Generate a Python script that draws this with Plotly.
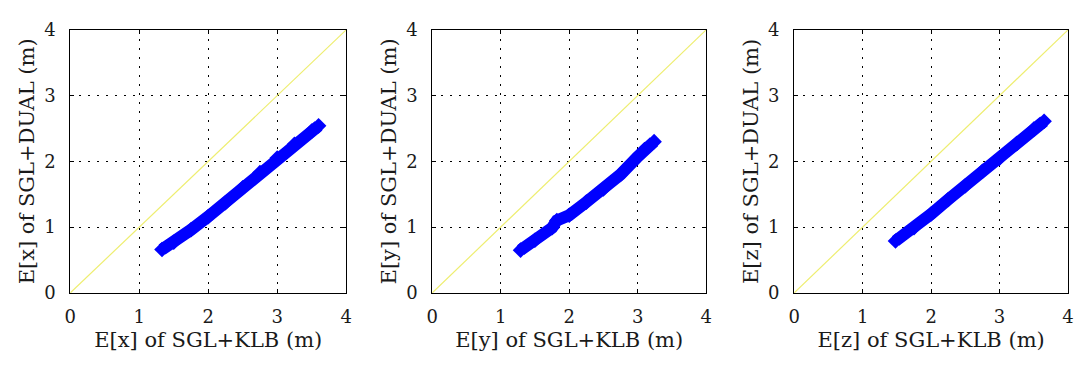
import plotly.graph_objects as go

# Estimated error: SGL+KLB (x axis) versus SGL+DUAL (y axis), one panel per coordinate
klb_x = [1.33, 1.50, 1.75, 2.00, 2.25, 2.50, 2.75, 3.00, 3.25, 3.50, 3.60]
dual_x = [0.66, 0.77, 0.96, 1.16, 1.37, 1.60, 1.83, 2.05, 2.26, 2.46, 2.54]

klb_y = [1.29, 1.50, 1.75, 1.82, 2.00, 2.25, 2.50, 2.75, 3.00, 3.10, 3.24]
dual_y = [0.65, 0.80, 0.99, 1.10, 1.18, 1.38, 1.58, 1.80, 2.07, 2.18, 2.30]

klb_z = [1.48, 1.75, 2.00, 2.25, 2.50, 2.75, 3.00, 3.25, 3.50, 3.65]
dual_z = [0.79, 0.99, 1.20, 1.42, 1.63, 1.85, 2.05, 2.27, 2.49, 2.61]

diag = [0, 4]
ticks = [0, 1, 2, 3, 4]
coords = ["x", "y", "z"]

W, H = 1080, 367
# plot-area boxes in pixels: (left, right)
boxes = [(65, 344), (431, 708), (797, 1074)]
top_px, bottom_px = 20, 299

FONT = "DejaVu Serif"
BLUE = "#0000ff"
YELLOW = "#eeee70"
TXT = "#1a1a1a"

fig = go.Figure()
series = [(klb_x, dual_x), (klb_y, dual_y), (klb_z, dual_z)]

for i, ((xs, ys), c) in enumerate(zip(series, coords)):
    ax = "" if i == 0 else str(i + 1)
    fig.add_trace(go.Scatter(
        x=diag, y=diag, mode="lines",
        line=dict(color=YELLOW, width=1.2),
        xaxis="x" + ax, yaxis="y" + ax, showlegend=False, hoverinfo="skip"))
    fig.add_trace(go.Scatter(
        x=xs, y=ys, mode="lines+markers",
        line=dict(color=BLUE, width=12),
        marker=dict(color=BLUE, size=12, symbol="diamond"),
        xaxis="x" + ax, yaxis="y" + ax, showlegend=False))

    l, r = boxes[i]
    common = dict(
        range=[0, 4], tickvals=ticks, ticktext=[str(t) for t in ticks],
        showline=True, linecolor="black", linewidth=1, mirror="ticks",
        ticks="inside", ticklen=4, tickcolor="black",
        showgrid=True, gridcolor="black", gridwidth=1, griddash="2px,7px",
        zeroline=False, tickfont=dict(family=FONT, size=18, color=TXT),
        fixedrange=True,
    )
    fig.layout["xaxis" + ax] = dict(
        common, domain=[l / W, r / W], anchor="y" + ax,
        title=dict(text=f"E[{c}] of SGL+KLB (m)",
                   font=dict(family=FONT, size=21, color=TXT), standoff=5),
        ticklabelstandoff=8,
    )
    fig.layout["yaxis" + ax] = dict(
        common, domain=[1 - bottom_px / H, 1 - top_px / H], anchor="x" + ax,
        title=dict(text=f"E[{c}] of SGL+DUAL (m)",
                   font=dict(family=FONT, size=21, color=TXT), standoff=3),
        ticklabelstandoff=10,
    )

fig.update_layout(
    width=W, height=H,
    margin=dict(l=0, r=0, t=0, b=0),
    paper_bgcolor="white", plot_bgcolor="white",
)

fig.write_html("out.html")
